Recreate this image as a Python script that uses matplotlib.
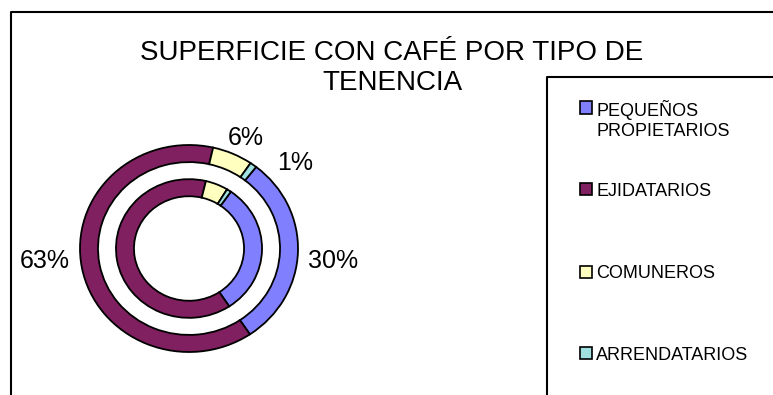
import matplotlib.pyplot as plt
from matplotlib.patches import Rectangle
import numpy as np

plt.rcParams['font.family'] = ['Liberation Sans', 'DejaVu Sans']

# superficie con cafe, porcentaje por tipo de tenencia
categorias = ["PEQUEÑOS\nPROPIETARIOS", "EJIDATARIOS", "COMUNEROS", "ARRENDATARIOS"]
colores = ["#8080FF", "#802060", "#FFFFC0", "#A0E0E0"]
anillo_ext = [30, 63, 6, 1]
anillo_int = [31, 63, 5, 1]

W, H = 773, 395
fig = plt.figure(figsize=(W / 100, H / 100), dpi=100)

# centro y radios de la dona en pixeles
cx, cy = 189, 248.5
rx, ry = 109, 103.5

ax = fig.add_axes([0, 0, 1, 1])
ax.axis('off')

borde = dict(edgecolor='black', linewidth=1.3)
w_ext, _ = ax.pie(anillo_ext, colors=colores, startangle=90 - 38, counterclock=False,
                  radius=1.0, wedgeprops=dict(width=0.165, **borde))
ax.pie(anillo_int, colors=colores, startangle=90 - 35, counterclock=False,
       radius=0.67, wedgeprops=dict(width=0.165, **borde))
ax.set_aspect('auto')
ax.set_xlim(-cx / rx, (W - cx) / rx)
ax.set_ylim((cy - H) / ry, cy / ry)

# etiquetas de porcentaje del anillo exterior
ajustes = [(0, -11), (-1.5, 1), (-6, 0), (13, -9)]
for w, v, (dx, dy) in zip(w_ext, anillo_ext, ajustes):
    ang = np.deg2rad((w.theta1 + w.theta2) / 2)
    x, y = 1.09 * np.cos(ang), 1.09 * np.sin(ang)
    ax.annotate(f"{v}%", (x, y), xytext=(dx, dy), textcoords='offset points',
                ha='left' if x > 0 else 'right', va='baseline', fontsize=18)

# marco del grafico y del cuadro de leyenda
def linea(xs, ys):
    fig.add_artist(plt.Line2D([x / W for x in xs], [1 - y / H for y in ys],
                              transform=fig.transFigure, color='black', linewidth=1.5))

linea([11, 11, W + 5], [H + 5, 12, 12])
linea([547, 547, W + 5], [H + 5, 77, 77])

# va='baseline' en texto de varias lineas usa la ultima linea
fig.text(392 / W, 1 - 90 / H, "SUPERFICIE CON CAFÉ POR TIPO DE\nTENENCIA",
         ha='center', va='baseline', multialignment='center', fontsize=20)

# leyenda
filas = [107.5, 189, 272, 353]
paso = 13 / 72 * 100 * 1.2
for nombre, color, fy in zip(categorias, colores, filas):
    fig.add_artist(Rectangle((580 / W, 1 - (fy + 6) / H), 12 / W, 12 / H,
                             transform=fig.transFigure, facecolor=color,
                             edgecolor='black', linewidth=1.2))
    extra = nombre.count("\n") * paso
    fig.text(596 / W, 1 - (fy + 6.5 + extra) / H, nombre, ha='left', va='baseline',
             fontsize=13)

fig.savefig('out.png', dpi=100)
